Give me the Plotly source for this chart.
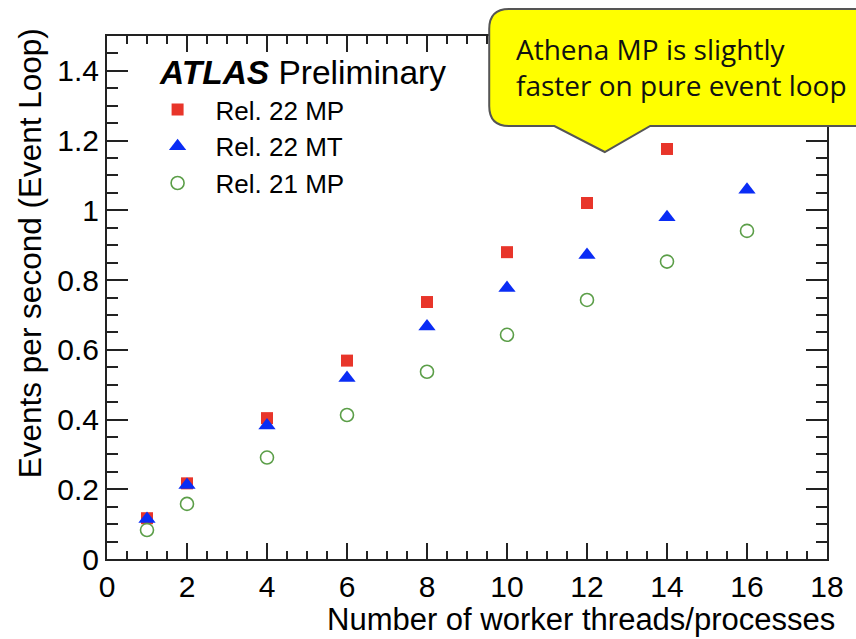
import plotly.graph_objects as go

# Event-loop throughput vs. number of workers
workers_22mp = [1, 2, 4, 6, 8, 10, 12, 14]
rate_22mp = [0.117, 0.217, 0.404, 0.569, 0.737, 0.880, 1.021, 1.176]

workers_22mt = [1, 2, 4, 6, 8, 10, 12, 14, 16]
rate_22mt = [0.115, 0.212, 0.383, 0.519, 0.667, 0.777, 0.872, 0.980, 1.059]

workers_21mp = [1, 2, 4, 6, 8, 10, 12, 14, 16]
rate_21mp = [0.083, 0.158, 0.291, 0.413, 0.537, 0.643, 0.743, 0.853, 0.941]

series_names = ["Rel. 22 MP", "Rel. 22 MT", "Rel. 21 MP"]
y_tick_vals = [0, 0.2, 0.4, 0.6, 0.8, 1.0, 1.2, 1.4]
y_tick_text = ["0", "0.2", "0.4", "0.6", "0.8", "1", "1.2", "1.4"]

W, H = 856, 639
L, R, T, B = 107, 20, 36, 80
PW, PH = W - L - R, H - T - B


def px(x):
    return (x - L) / PW


def py(y):
    return (H - B - y) / PH


FONT = "Liberation Sans, Arial, Helvetica, sans-serif"

fig = go.Figure()
fig.add_trace(go.Scatter(
    x=workers_22mp, y=rate_22mp, mode="markers", name=series_names[0],
    marker=dict(symbol="square", size=12, color="#e8352a", line=dict(width=0)),
    legendgroup="a"))
fig.add_trace(go.Scatter(
    x=workers_22mt, y=rate_22mt, mode="markers", name=series_names[1],
    marker=dict(symbol="triangle-up", size=15, color="#0a2cf5", line=dict(width=0)),
    legendgroup="b"))
fig.add_trace(go.Scatter(
    x=workers_21mp, y=rate_21mp, mode="markers", name=series_names[2],
    marker=dict(symbol="circle-open", size=13, color="#5b9e48", line=dict(width=1.6)),
    legendgroup="c"))

axis_common = dict(
    showline=True, linecolor="#222", linewidth=2, mirror="allticks",
    ticks="inside", tickcolor="#222", tickwidth=1.5,
    showgrid=False, zeroline=False,
    tickfont=dict(family=FONT, size=30, color="black"),
)

fig.update_xaxes(range=[0, 18], dtick=2, tick0=0, ticklen=16,
                 minor=dict(dtick=0.5, ticks="inside", ticklen=8, tickcolor="#222", tickwidth=1.5),
                 **axis_common)
fig.update_yaxes(range=[0, 1.5], ticklen=21,
                 tickvals=y_tick_vals, ticktext=y_tick_text,
                 minor=dict(dtick=0.05, ticks="inside", ticklen=11, tickcolor="#222", tickwidth=1.5),
                 **axis_common)

annotations = [
    dict(text="Number of worker threads/processes", xref="paper", yref="paper",
         x=px(846), y=py(600), xanchor="right", yanchor="top", showarrow=False,
         font=dict(family=FONT, size=31, color="black")),
    dict(text="Events per second (Event Loop)", xref="paper", yref="paper",
         x=px(9), y=py(26), xanchor="left", yanchor="top", textangle=-90, showarrow=False,
         font=dict(family=FONT, size=31.5, color="black")),
    dict(text="<b><i>ATLAS</i></b> Preliminary", xref="paper", yref="paper",
         x=px(158), y=py(72), xanchor="left", yanchor="middle", showarrow=False,
         font=dict(family=FONT, size=33.5, color="black")),
]

# Speech-bubble callout
bx0, by0, bx1, by1, r = 494, 9, 880, 126, 20
tail = [(657, 126), (611, 152), (560, 126)]


def P(x, y):
    return f"{px(x):.5f},{py(y):.5f}"


path = (f"M {P(bx0 + r, by0)} L {P(bx1, by0)} L {P(bx1, by1)} "
        f"L {P(*tail[0])} L {P(*tail[1])} L {P(*tail[2])} "
        f"L {P(bx0 + r, by1)} Q {P(bx0, by1)} {P(bx0, by1 - r)} "
        f"L {P(bx0, by0 + r)} Q {P(bx0, by0)} {P(bx0 + r, by0)} Z")

shapes = [dict(type="path", path=path, xref="paper", yref="paper",
               fillcolor="#ffff00", line=dict(color="#555555", width=2), layer="above")]

annotations.append(dict(
    text="Athena MP is slightly<br>faster on pure event loop", xref="paper", yref="paper",
    x=px(519), y=py(67), xanchor="left", yanchor="middle", align="left", showarrow=False,
    font=dict(family="Open Sans, sans-serif", size=28, color="#111")))

fig.update_layout(
    width=W, height=H, margin=dict(l=L, r=R, t=T, b=B),
    paper_bgcolor="white", plot_bgcolor="white",
    showlegend=True,
    legend=dict(x=px(140), y=py(86), xanchor="left", yanchor="top",
                bgcolor="rgba(0,0,0,0)", borderwidth=0, itemwidth=66,
                traceorder="grouped", tracegroupgap=0,
                font=dict(family=FONT, size=26, color="black")),
    annotations=annotations, shapes=shapes,
)

fig.write_html("out.html")
